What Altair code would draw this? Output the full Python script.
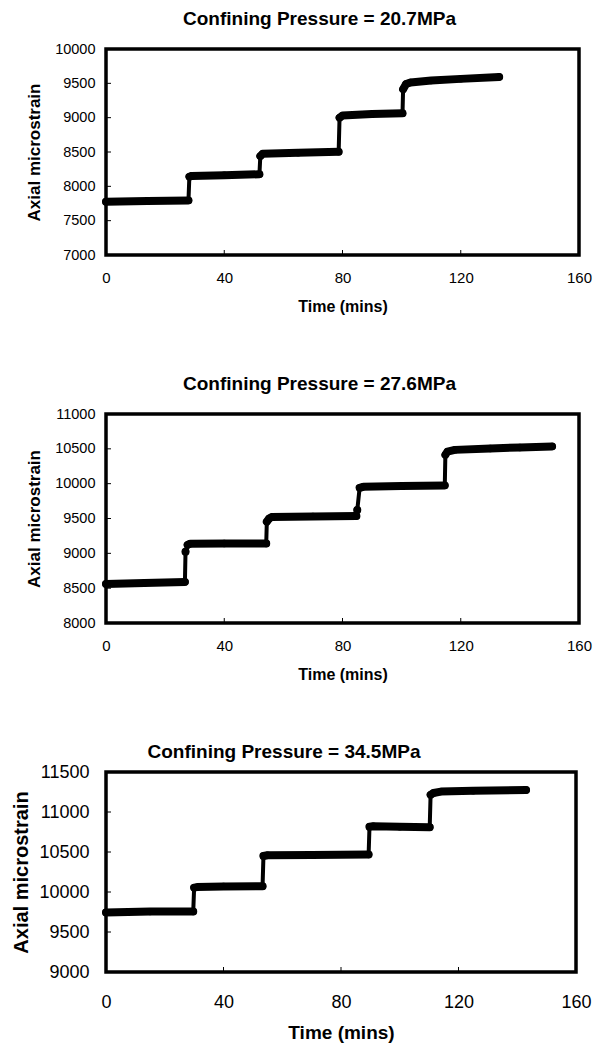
import altair as alt
import pandas as pd

FONT = "Liberation Sans"

x_ticks = [0, 40, 80, 120, 160]
panel_titles = ["Confining Pressure = 20.7MPa",
                "Confining Pressure = 27.6MPa",
                "Confining Pressure = 34.5MPa"]

# Panel 1 (20.7 MPa)
t1 = [0, 14, 27.9, 28.2, 29, 40, 51.9, 52.2, 53, 65, 78.7, 79, 80, 90, 100.3,
      100.5, 101.5, 103, 110, 120, 133]
y1 = [7775, 7785, 7795, 8140, 8152, 8162, 8176, 8440, 8474, 8490, 8502, 9000,
      9030, 9052, 9064, 9414, 9490, 9512, 9540, 9565, 9592]
s1 = [0, 0, 0, 1, 1, 1, 1, 2, 2, 2, 2, 3, 3, 3, 3, 4, 4, 4, 4, 4, 4]
y1_ticks = [7000, 7500, 8000, 8500, 9000, 9500, 10000]

# Panel 2 (27.6 MPa)
t2 = [0, 13, 26.7, 26.9, 27.6, 28.5, 40, 54.2, 54.4, 55.2, 56, 70, 84.7, 85,
      85.8, 87, 100, 114.6, 114.8, 115.5, 118, 130, 140, 150.9]
y2 = [8560, 8575, 8590, 9022, 9120, 9138, 9140, 9142, 9454, 9500, 9520, 9530,
      9536, 9622, 9940, 9955, 9965, 9975, 10414, 10460, 10485, 10505, 10520,
      10535]
s2 = [0, 0, 0, 5, 1, 1, 1, 1, 2, 2, 2, 2, 2, 6, 3, 3, 3, 3, 4, 4, 4, 4, 4, 4]
y2_ticks = [8000, 8500, 9000, 9500, 10000, 10500, 11000]

# Panel 3 (34.5 MPa)
t3 = [0, 15, 29.7, 30, 31, 40, 53.3, 53.6, 55, 70, 89.4, 89.7, 91, 100, 110.2,
      110.5, 111.5, 114, 125, 143]
y3 = [9745, 9755, 9755, 10055, 10061, 10070, 10073, 10450, 10460, 10462, 10468,
      10815, 10822, 10815, 10810, 11215, 11238, 11255, 11265, 11275]
s3 = [0, 0, 0, 1, 1, 1, 1, 2, 2, 2, 2, 3, 3, 3, 3, 4, 4, 4, 4, 4]
y3_ticks = [9000, 9500, 10000, 10500, 11000, 11500]


def panel(title, t, y, s, yticks, w, h, st):
    df = pd.DataFrame({"t": t, "y": y, "s": s})
    xs = alt.Scale(domain=[x_ticks[0], x_ticks[-1]], nice=False, zero=False)
    ys = alt.Scale(domain=[yticks[0], yticks[-1]], nice=False, zero=False)
    xax = alt.Axis(values=x_ticks, title="Time (mins)", domain=False, ticks=False,
                   grid=False, labelFont=FONT, labelFontSize=st["xl"],
                   labelPadding=st["xlp"], titleFont=FONT, titleFontWeight="bold",
                   titleFontSize=st["xt"], titlePadding=st["xtp"],
                   labelColor="black", titleColor="black", labelFlush=False)
    yax = alt.Axis(values=yticks, title="Axial microstrain", format="d",
                   domain=False, ticks=False, grid=False, labelFont=FONT,
                   labelFontSize=st["yl"], labelPadding=st["ylp"],
                   titleFont=FONT, titleFontWeight="bold",
                   titleFontSize=st["yt"], titlePadding=st["ytp"],
                   labelColor="black", titleColor="black", labelFlush=False)
    X = alt.X("t:Q", scale=xs, axis=xax)
    Y = alt.Y("y:Q", scale=ys, axis=yax)

    xt = alt.Chart(pd.DataFrame({"t": x_ticks[1:-1]})).mark_rule(
        color="black", strokeWidth=1).encode(x=X, y=alt.value(h), y2=alt.value(h - 5))
    yt = alt.Chart(pd.DataFrame({"y": yticks[1:-1]})).mark_rule(
        color="black", strokeWidth=1).encode(y=Y, x=alt.value(0), x2=alt.value(5))
    base = alt.Chart(df)
    thin = base.mark_line(color="black", strokeWidth=4).encode(x=X, y=Y)
    thick = base.mark_line(color="black", strokeWidth=8, strokeCap="round",
                           strokeJoin="round").encode(x=X, y=Y, detail="s:N")
    dots = base.mark_circle(color="black", size=55, opacity=1).encode(x=X, y=Y)
    return alt.layer(xt, yt, thin, thick, dots).properties(
        width=w, height=h,
        title=alt.TitleParams(text=title, font=FONT, fontWeight="bold",
                              fontSize=st["title"], anchor="middle", frame="group",
                              dx=st["dx"], offset=st["off"], color="black"))


st1 = dict(xl=15, xlp=15, xt=16, xtp=13, yl=14.5, ylp=11, yt=17, ytp=11,
           title=19, dx=-23, off=12)
st2 = dict(st1, off=12)
st3 = dict(xl=18, xlp=21, xt=19, xtp=12, yl=18, ylp=17, yt=20, ytp=7,
           title=19, dx=-57, off=1)

p1 = panel(panel_titles[0], t1, y1, s1, y1_ticks, 473, 206, st1)
p2 = panel(panel_titles[1], t2, y2, s2, y2_ticks, 473, 209, st2)
p3 = panel(panel_titles[2], t3, y3, s3, y3_ticks, 470, 200, st3)

chart = alt.vconcat(p1, p2, p3, spacing=57).properties(
    padding={"left": 10, "top": 8, "right": 5, "bottom": 2},
    background="white"
).configure_view(stroke="black", strokeWidth=3.5)

chart.save("out.html", embed_options={"renderer": "svg", "actions": False})
